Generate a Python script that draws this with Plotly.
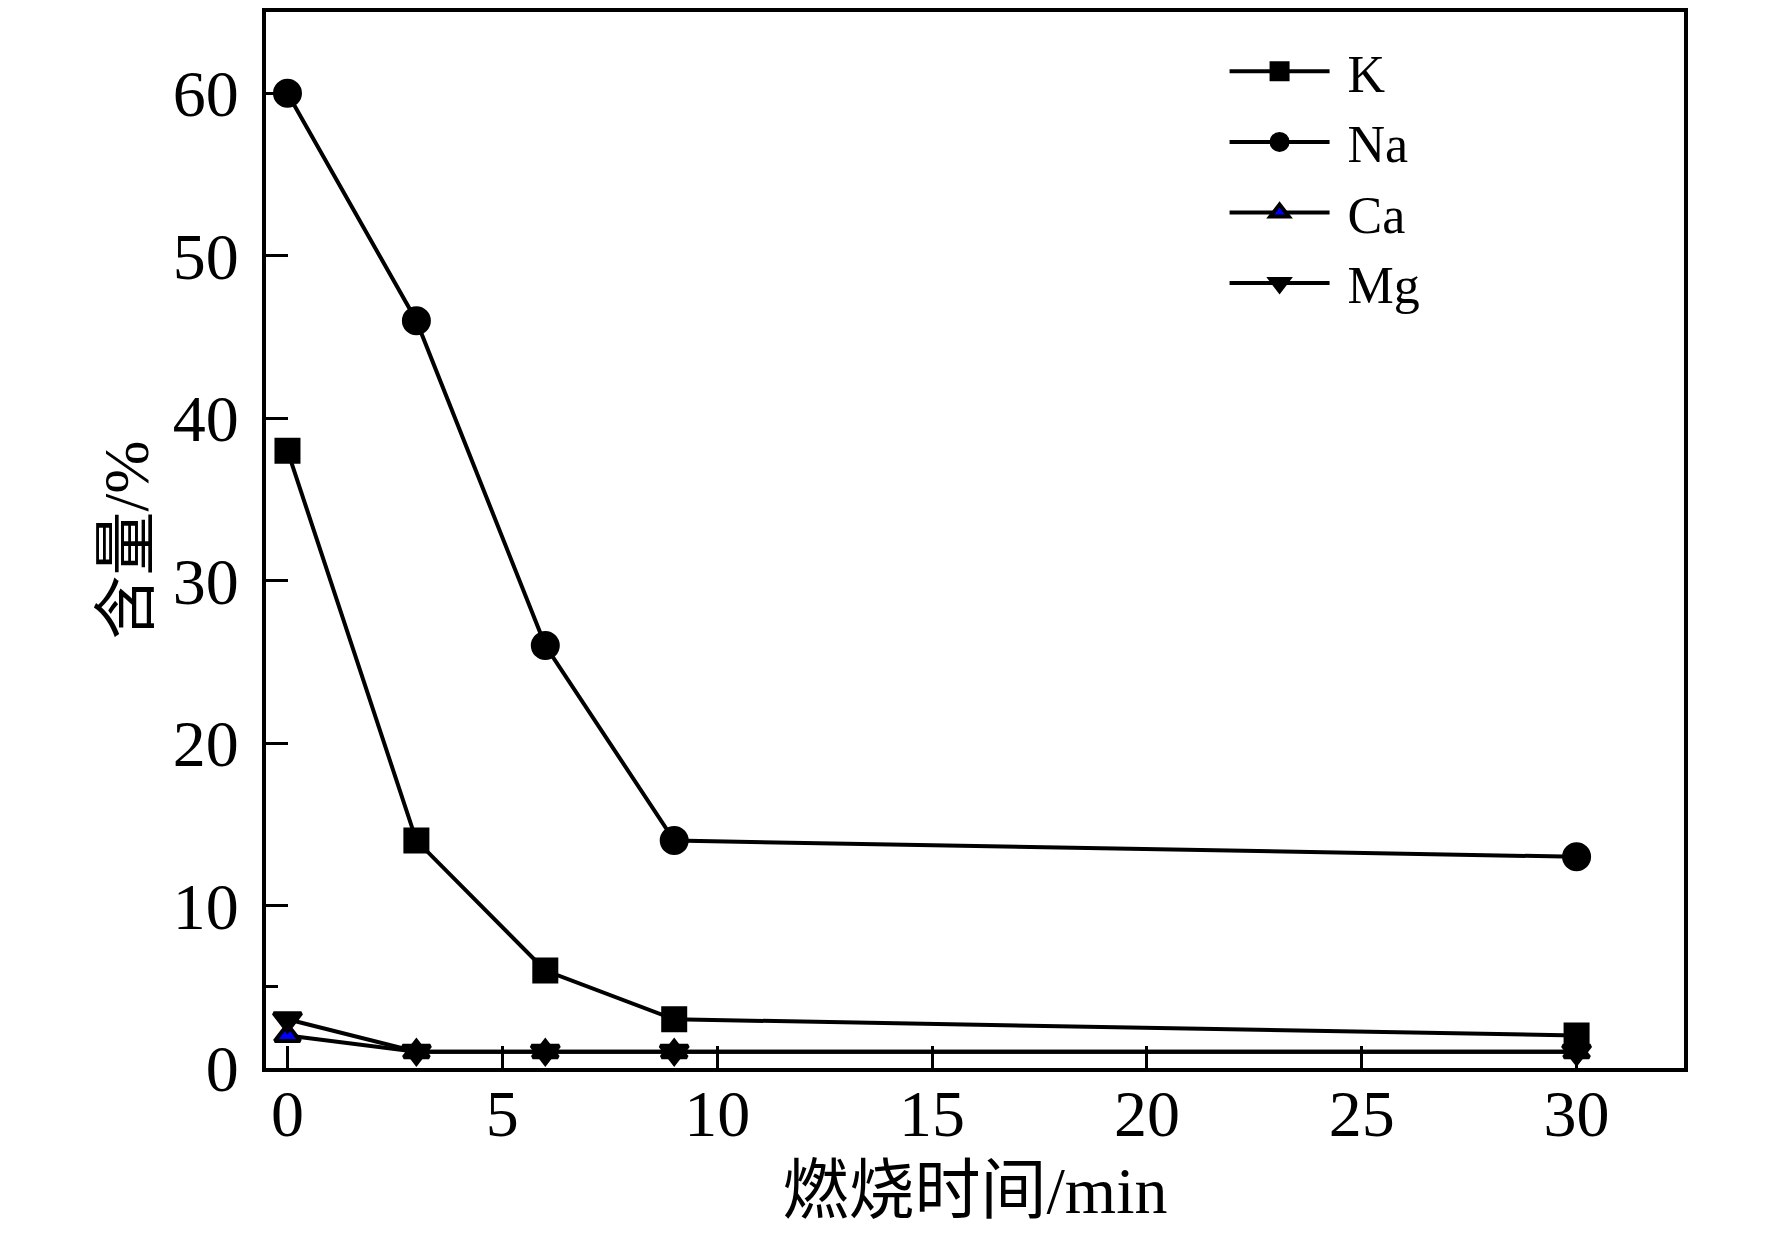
import plotly.graph_objects as go

# burn time (min) and element content (%)
time_min = [0, 3, 6, 9, 30]
k_vals = [38, 14, 6, 3, 2]
na_vals = [60, 46, 26, 14, 13]
ca_vals = [2, 1, 1, 1, 1]
mg_vals = [3, 1, 1, 1, 1]

series_names = ["K", "Na", "Ca", "Mg"]
x_ticks = [0, 5, 10, 15, 20, 25, 30]
y_ticks = [0, 10, 20, 30, 40, 50, 60]

font_fam = "Liberation Serif, Noto Sans CJK SC"

fig = go.Figure()

# marker outline makes the legend symbols a bit bigger (legend caps marker size)
styles = [
    dict(symbol="square", size=22, color="black", line=dict(width=4, color="black")),
    dict(symbol="circle", size=25, color="black", line=dict(width=4, color="black")),
    dict(symbol="triangle-up", size=22, color="#0000ff", line=dict(width=4, color="black")),
    dict(symbol="triangle-down", size=24, color="black", line=dict(width=4, color="black")),
]

for name, vals, mk in zip(series_names, [k_vals, na_vals, ca_vals, mg_vals], styles):
    fig.add_trace(go.Scatter(
        x=time_min, y=vals, name="\u00a0" + name,
        mode="lines+markers",
        line=dict(color="black", width=4),
        marker=mk,
    ))

fig.update_layout(
    width=1772, height=1244,
    paper_bgcolor="white", plot_bgcolor="white",
    margin=dict(l=258, r=96, t=0, b=184),
    font=dict(family=font_fam, size=66, color="black"),
    showlegend=True,
    legend=dict(
        x=0.676, y=0.982, xanchor="left", yanchor="top",
        bgcolor="rgba(0,0,0,0)",
        font=dict(size=52, family=font_fam),
        itemwidth=100,
        tracegroupgap=0,
    ),
)

fig.update_xaxes(
    range=[-0.5, 32.5],
    tickmode="array", tickvals=x_ticks,
    ticks="inside", ticklen=22, tickwidth=3, tickcolor="black",
    ticklabelstandoff=-15,
    showline=True, linewidth=4, linecolor="black", mirror=True,
    showgrid=False, zeroline=False,
    tickfont=dict(size=66),
    title=dict(text="燃烧时间/min", font=dict(size=66), standoff=19),
)
fig.update_yaxes(
    range=[0, 65],
    tickmode="array", tickvals=y_ticks,
    ticks="inside", ticklen=22, tickwidth=3, tickcolor="black",
    ticklabelstandoff=10,
    minor=dict(tickmode="array", tickvals=[5], ticks="inside", ticklen=12, tickwidth=3, tickcolor="black"),
    showline=True, linewidth=4, linecolor="black", mirror=True,
    showgrid=False, zeroline=False,
    tickfont=dict(size=66),
    title=dict(text="含量/%", font=dict(size=64), standoff=4),
)

fig.write_html("out.html")
